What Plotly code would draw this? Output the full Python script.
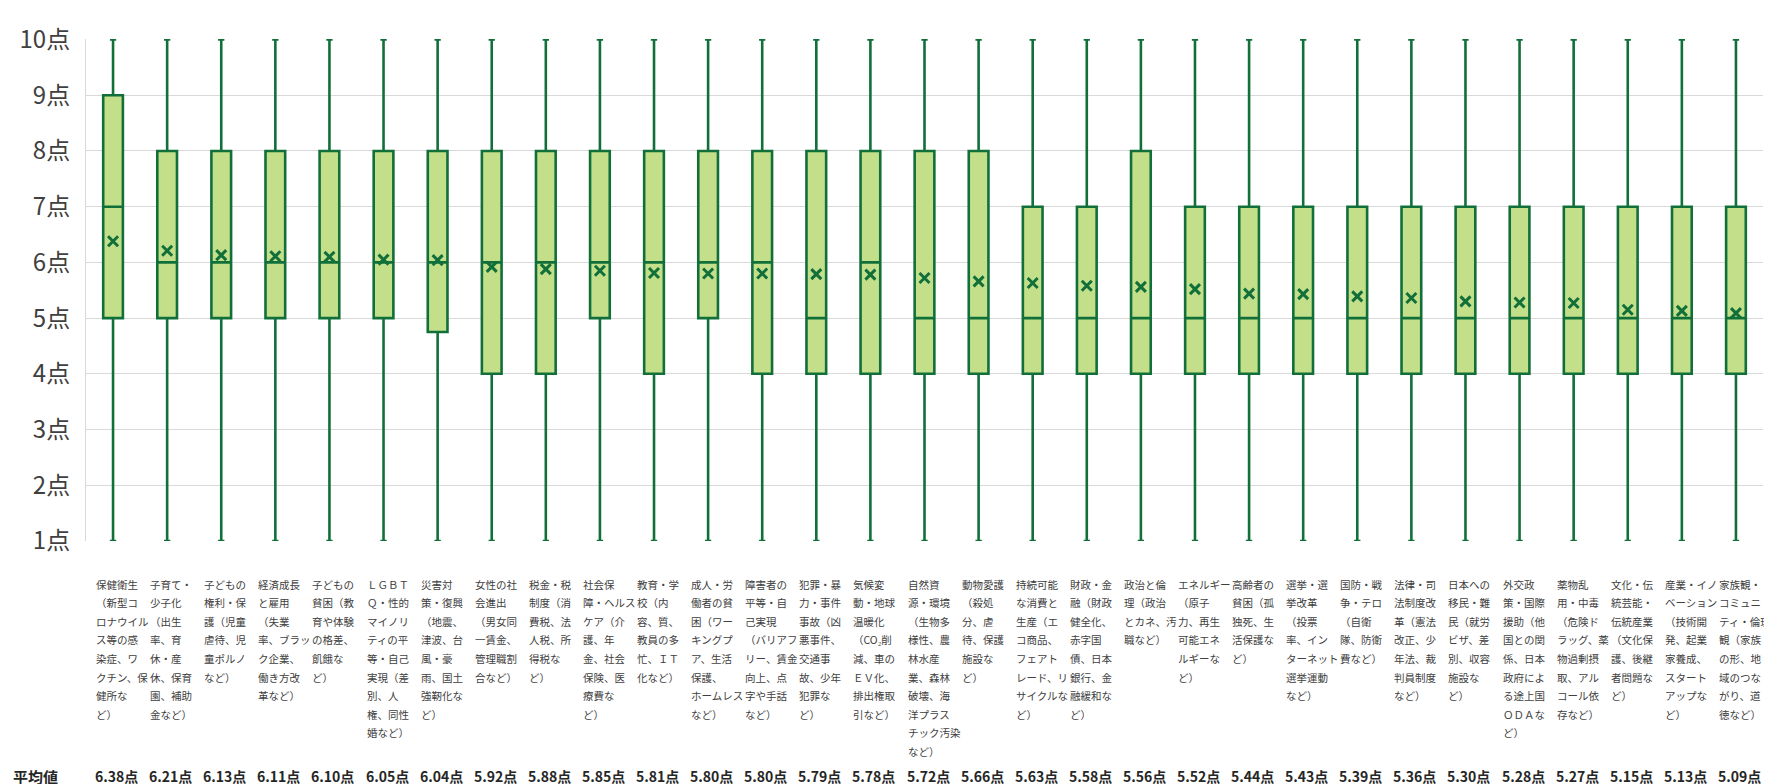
import plotly.graph_objects as go

# ---- data ----
label_lines = [
    ["保健衛生", "（新型コ", "ロナウイル", "ス等の感", "染症、ワ", "クチン、保", "健所な", "ど）"],
    ["子育て・", "少子化", "（出生", "率、育", "休・産", "休、保育", "園、補助", "金など）"],
    ["子どもの", "権利・保", "護（児童", "虐待、児", "童ポルノ", "など）"],
    ["経済成長", "と雇用", "（失業", "率、ブラッ", "ク企業、", "働き方改", "革など）"],
    ["子どもの", "貧困（教", "育や体験", "の格差、", "飢餓な", "ど）"],
    ["ＬＧＢＴ", "Ｑ・性的", "マイノリ", "ティの平", "等・自己", "実現（差", "別、人", "権、同性", "婚など）"],
    ["災害対", "策・復興", "（地震、", "津波、台", "風・豪", "雨、国土", "強靭化な", "ど）"],
    ["女性の社", "会進出", "（男女同", "一賃金、", "管理職割", "合など）"],
    ["税金・税", "制度（消", "費税、法", "人税、所", "得税な", "ど）"],
    ["社会保", "障・ヘルス", "ケア（介", "護、年", "金、社会", "保険、医", "療費な", "ど）"],
    ["教育・学", "校（内", "容、質、", "教員の多", "忙、ＩＴ", "化など）"],
    ["成人・労", "働者の貧", "困（ワー", "キングプ", "ア、生活", "保護、", "ホームレス", "など）"],
    ["障害者の", "平等・自", "己実現", "（バリアフ", "リー、賃金", "向上、点", "字や手話", "など）"],
    ["犯罪・暴", "力・事件", "事故（凶", "悪事件、", "交通事", "故、少年", "犯罪な", "ど）"],
    ["気候変", "動・地球", "温暖化", "（CO₂削", "減、車の", "ＥＶ化、", "排出権取", "引など）"],
    ["自然資", "源・環境", "（生物多", "様性、農", "林水産", "業、森林", "破壊、海", "洋プラス", "チック汚染", "など）"],
    ["動物愛護", "（殺処", "分、虐", "待、保護", "施設な", "ど）"],
    ["持続可能", "な消費と", "生産（エ", "コ商品、", "フェアト", "レード、リ", "サイクルな", "ど）"],
    ["財政・金", "融（財政", "健全化、", "赤字国", "債、日本", "銀行、金", "融緩和な", "ど）"],
    ["政治と倫", "理（政治", "とカネ、汚", "職など）"],
    ["エネルギー", "（原子", "力、再生", "可能エネ", "ルギーな", "ど）"],
    ["高齢者の", "貧困（孤", "独死、生", "活保護な", "ど）"],
    ["選挙・選", "挙改革", "（投票", "率、イン", "ターネット", "選挙運動", "など）"],
    ["国防・戦", "争・テロ", "（自衛", "隊、防衛", "費など）"],
    ["法律・司", "法制度改", "革（憲法", "改正、少", "年法、裁", "判員制度", "など）"],
    ["日本への", "移民・難", "民（就労", "ビザ、差", "別、収容", "施設な", "ど）"],
    ["外交政", "策・国際", "援助（他", "国との関", "係、日本", "政府によ", "る途上国", "ＯＤＡな", "ど）"],
    ["薬物乱", "用・中毒", "（危険ド", "ラッグ、薬", "物過剰摂", "取、アル", "コール依", "存など）"],
    ["文化・伝", "統芸能・", "伝統産業", "（文化保", "護、後継", "者問題な", "ど）"],
    ["産業・イノ", "ベーション", "（技術開", "発、起業", "家養成、", "スタート", "アップな", "ど）"],
    ["家族観・", "コミュニ", "ティ・倫理", "観（家族", "の形、地", "域のつな", "がり、道", "徳など）"],
]
categories = ["".join(l) for l in label_lines]

mins = [1] * 31
maxs = [10] * 31
q1 = [5, 5, 5, 5, 5, 5, 4.75, 4, 4, 5, 4, 5, 4, 4, 4, 4, 4, 4, 4, 4, 4, 4, 4, 4, 4, 4, 4, 4, 4, 4, 4]
medians = [7, 6, 6, 6, 6, 6, 6, 6, 6, 6, 6, 6, 6, 5, 6, 5, 5, 5, 5, 5, 5, 5, 5, 5, 5, 5, 5, 5, 5, 5, 5]
q3 = [9, 8, 8, 8, 8, 8, 8, 8, 8, 8, 8, 8, 8, 8, 8, 8, 8, 7, 7, 8, 7, 7, 7, 7, 7, 7, 7, 7, 7, 7, 7]
means = [6.38, 6.21, 6.13, 6.11, 6.10, 6.05, 6.04, 5.92, 5.88, 5.85, 5.81, 5.80, 5.80, 5.79, 5.78, 5.72,
         5.66, 5.63, 5.58, 5.56, 5.52, 5.44, 5.43, 5.39, 5.36, 5.30, 5.28, 5.27, 5.15, 5.13, 5.09]
ytick_vals = [1, 2, 3, 4, 5, 6, 7, 8, 9, 10]
ytick_text = [f"{v}点" for v in ytick_vals]
mean_row_title = "平均値"

# ---- style ----
FILL = "#C4DF8A"
LINE = "#11703A"
TEXT = "#404040"
JP = "Noto Sans CJK JP"

fig = go.Figure()
fig.add_trace(go.Box(
    x=categories, q1=q1, median=medians, q3=q3,
    lowerfence=mins, upperfence=maxs,
    fillcolor=FILL, line=dict(color=LINE, width=2.6),
    whiskerwidth=0.32, boxpoints=False, hoverinfo="skip",
    showlegend=False,
))
fig.add_trace(go.Scatter(
    x=categories, y=means, mode="markers",
    marker=dict(symbol="x-thin", size=10, line=dict(color=LINE, width=3)),
    showlegend=False, hoverinfo="skip", cliponaxis=False,
))

annotations = []
LINE_H = 18.6
for cat, lines in zip(categories, label_lines):
    for j, t in enumerate(lines):
        annotations.append(dict(
            x=cat, xref="x", y=0, yref="paper", xanchor="left", yanchor="middle",
            xshift=-19, yshift=-(43 + j * LINE_H), text=t, showarrow=False,
            font=dict(family=JP, size=10.5, color=TEXT),
        ))
for cat, m in zip(categories, means):
    annotations.append(dict(
        x=cat, xref="x", y=0, yref="paper", xanchor="left", yanchor="middle",
        xshift=-20, yshift=-235, text=f"<b>{m:.2f}点</b>", showarrow=False,
        font=dict(family=JP, size=14, color="#262626"),
    ))
annotations.append(dict(
    x=0, xref="paper", xshift=-75, y=0, yref="paper", xanchor="left", yanchor="middle",
    yshift=-235, text=f"<b>{mean_row_title}</b>", showarrow=False,
    font=dict(family=JP, size=15, color="#262626"),
))

fig.update_layout(
    width=1772, height=784,
    margin=dict(l=75, r=17, t=16, b=251),
    plot_bgcolor="white", paper_bgcolor="white",
    boxgap=0.48,
    annotations=annotations,
    font=dict(family=JP, color=TEXT),
)
fig.update_xaxes(showticklabels=False, showgrid=False, zeroline=False, showline=False,
                 range=[-0.5, 30.5])
fig.update_yaxes(range=[0.999, 10.01], tickvals=ytick_vals, ticktext=ytick_text,
                 tickfont=dict(family=JP, size=24, color=TEXT),
                 gridcolor="#D9D9D9", gridwidth=1, zeroline=False,
                 showline=True, linecolor="#D9D9D9", linewidth=1,
                 ticklabelstandoff=10, ticklabeloverflow="allow")

fig.write_html("out.html")
